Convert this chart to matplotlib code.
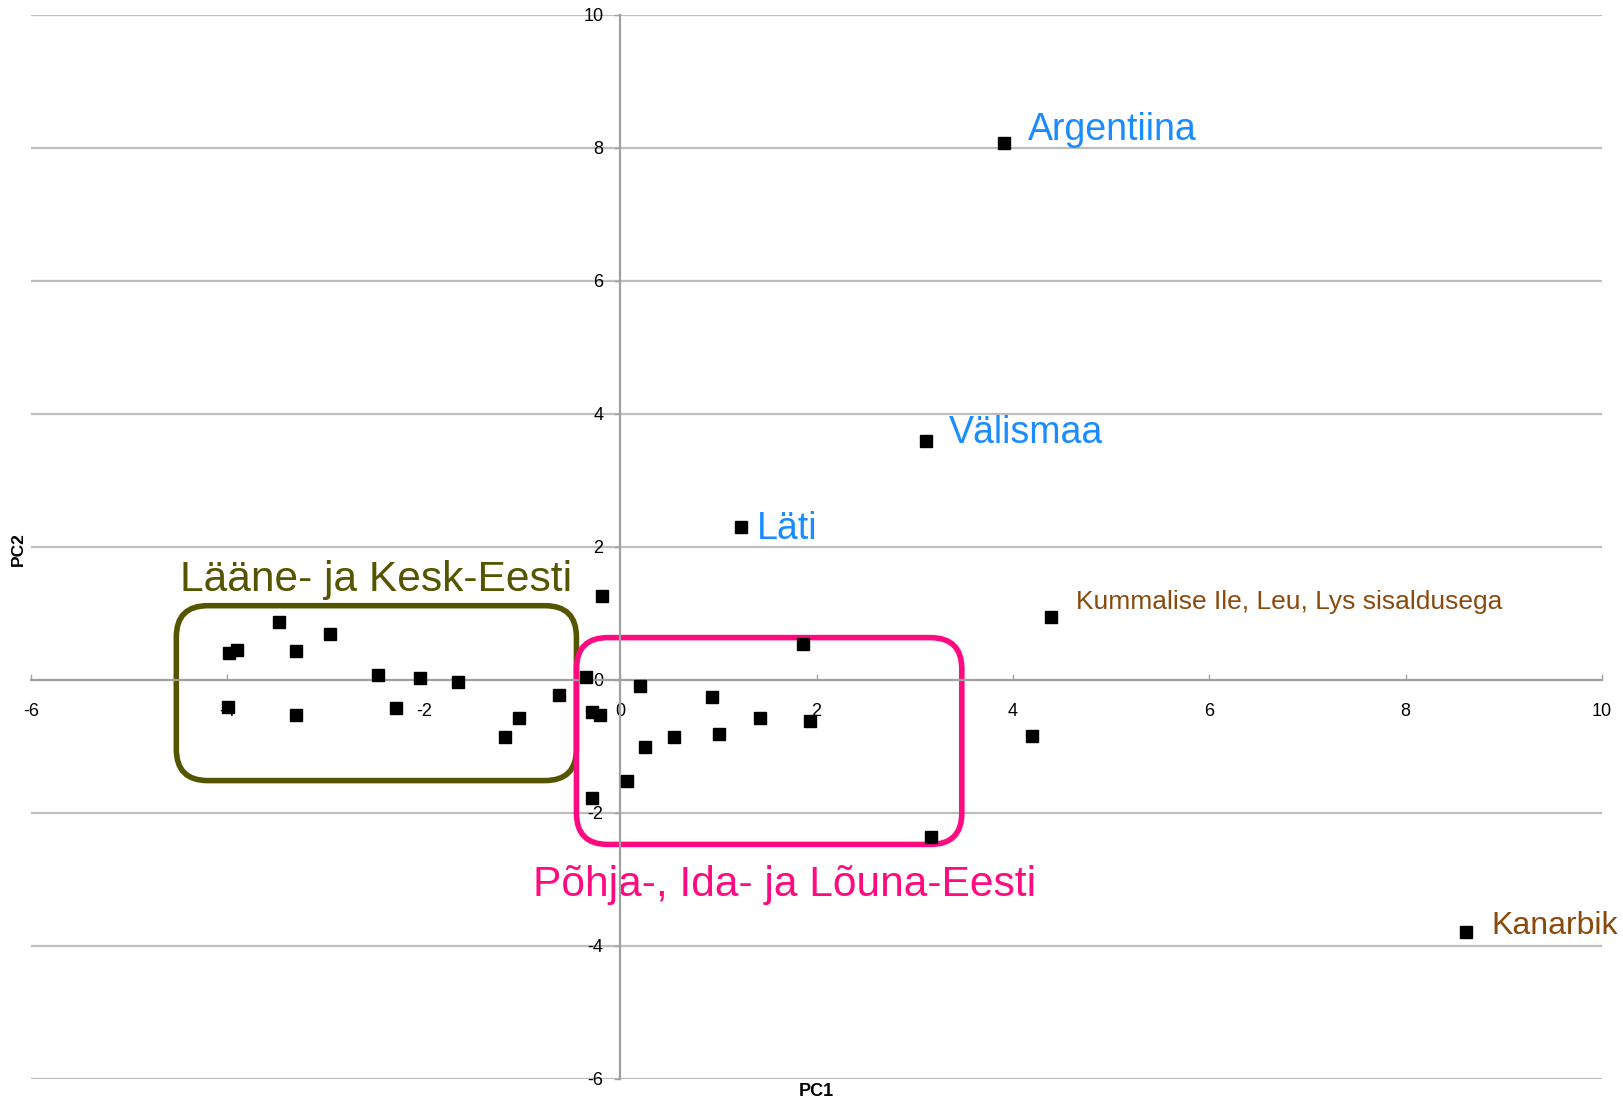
import matplotlib
matplotlib.use("Agg")
import matplotlib.pyplot as plt
from matplotlib.patches import FancyBboxPatch

plt.rcParams['font.family'] = ['Liberation Sans', 'DejaVu Sans']

# Data (PC1, PC2)
pc1 = [3.91, 3.12, 1.23, 4.39, 8.61, 4.19, 3.17, 1.86, 1.93, 1.42, 1.01, 0.94,
       0.55, 0.25, 0.20, 0.07, -0.29, -0.18, -0.35, -0.29, -0.20, -0.62, -1.03,
       -1.17, -1.65, -2.04, -2.28, -2.47, -2.95, -3.30, -3.30, -3.47, -3.90,
       -3.98, -3.99]
pc2 = [8.07, 3.59, 2.30, 0.94, -3.79, -0.85, -2.37, 0.54, -0.63, -0.58, -0.82,
       -0.27, -0.86, -1.02, -0.10, -1.53, -1.78, 1.25, 0.04, -0.49, -0.54,
       -0.24, -0.58, -0.86, -0.04, 0.02, -0.43, 0.07, 0.68, 0.43, -0.54, 0.86,
       0.44, 0.40, -0.41]

xticks = [-6, -4, -2, 0, 2, 4, 6, 8, 10]
yticks = [-6, -4, -2, 0, 2, 4, 6, 8, 10]

labels = ["Argentiina", "Välismaa", "Läti",
          "Kummalise Ile, Leu, Lys sisaldusega", "Kanarbik"]
label_pos = [(4.15, 8.27), (3.35, 3.71), (1.39, 2.27), (4.645, 1.16), (8.872, -3.71)]
label_col = ["#1a8cff", "#1a8cff", "#1a8cff", "#8b4a0c", "#8b4a0c"]
label_size = [27, 27, 27, 19, 23]

groups = ["Lääne- ja Kesk-Eesti", "Põhja-, Ida- ja Lõuna-Eesti"]
group_col = ["#555500", "#ff0a80"]
group_box = [(-4.52, -1.52, -0.445, 1.11), (-0.445, -2.48, 3.48, 0.63)]
group_text = [(-4.48, 1.49), (-0.888, -3.09)]

fig = plt.figure(figsize=(16.23, 11.01), dpi=100)
ax = fig.add_axes([31/1623, 1-1078.5/1101, 1571/1623, 1064/1101])
ax.set_xlim(-6, 10)
ax.set_ylim(-6, 10)

for y in yticks:
    if y != 0:
        ax.axhline(y, color='#bdbdbd', lw=1.6, zorder=1)

ax.spines['top'].set_visible(False)
ax.spines['right'].set_visible(False)
ax.spines['left'].set_position(('data', 0))
ax.spines['bottom'].set_position(('data', 0))
for s in ('left', 'bottom'):
    ax.spines[s].set_color('#a0a0a0')
    ax.spines[s].set_linewidth(1.6)
    ax.spines[s].set_zorder(3)

ax.set_xticks(xticks)
ax.set_yticks(yticks)
ax.set_xticklabels([str(t) for t in xticks])
ax.set_yticklabels([str(t) for t in yticks])
ax.tick_params(axis='x', direction='in', length=4, width=1, color='#a0a0a0',
               pad=17, labelsize=13)
ax.tick_params(axis='y', direction='out', length=4, width=1, color='#a0a0a0',
               pad=8, labelsize=13)

ax.plot(pc1, pc2, 's', color='black', markersize=8, zorder=4, linestyle='none')

for t, (x, y), c, fs in zip(labels, label_pos, label_col, label_size):
    ax.text(x, y, t, color=c, fontsize=fs, ha='left', va='center', zorder=2)

sx = 1571/16.0
sy = 1064/16.0
rx = 0.32
for (x0, y0, x1, y1), c in zip(group_box, group_col):
    p = FancyBboxPatch((x0 + rx, y0 + rx*sx/sy), (x1 - x0) - 2*rx,
                       (y1 - y0) - 2*rx*sx/sy,
                       boxstyle=f"round,pad={rx},rounding_size={rx}",
                       mutation_aspect=sx/sy,
                       fill=False, edgecolor=c, lw=4, zorder=2)
    ax.add_patch(p)

for t, (x, y), c in zip(groups, group_text, group_col):
    ax.text(x, y, t, color=c, fontsize=30.6, ha='left', va='center', zorder=2)

fig.text(816/1623, 1-1092/1101, "PC1", ha='center', va='center',
         fontsize=13, fontweight='bold')
fig.text(18.6/1623, 1-548.6/1101, "PC2", ha='center', va='center',
         fontsize=12.5, fontweight='bold', rotation=90)

fig.savefig("out.png", dpi=100)
